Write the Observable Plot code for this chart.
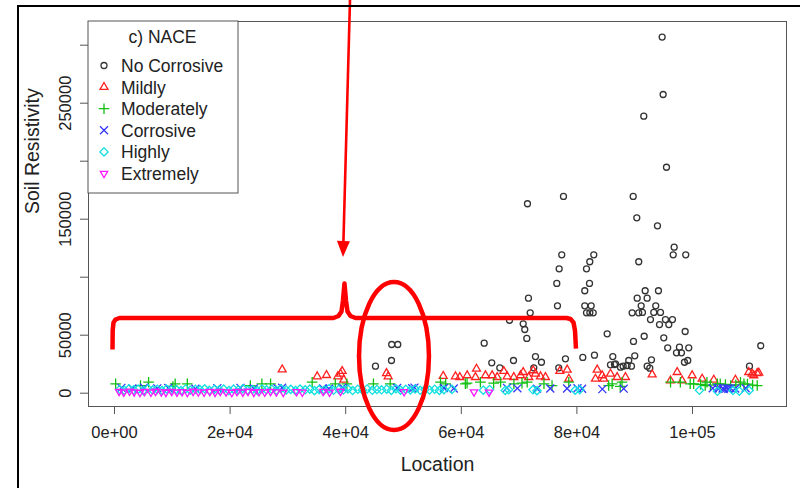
<!DOCTYPE html>
<html><head><meta charset="utf-8">
<script src="https://cdn.jsdelivr.net/npm/d3@7"></script>
<script src="https://cdn.jsdelivr.net/npm/@observablehq/plot@0.6"></script>
<style>body{margin:0;background:#fff;overflow:hidden}</style>
</head><body><div id="chart"></div>
<script>
// ---- data: [Location, Soil Resistivity] ----
const noCorrosive = [[94750,307000],[94920,257500],[91570,238800],[95500,194800],[77680,169600],[71450,163300],[89740,169600],[90360,151200],[93940,144300],[96830,125900],[77380,119300],[76930,107200],[76520,94600],[76640,75300],[82920,119300],[82230,113300],[81660,107200],[82180,94600],[81360,88300],[81360,75300],[82470,75300],[81660,69300],[82240,69300],[82820,69300],[90700,113300],[90430,81900],[89560,69300],[90700,69300],[71620,81900],[71920,69300],[70710,59800],[70980,54900],[71330,47200],[68340,62900],[63960,43100],[85240,51200],[89790,44600],[90010,32200],[65270,26200],[69030,28200],[72830,31600],[73870,26700],[78020,29600],[81020,30800],[83040,32800],[86210,31600],[85810,24500],[86680,25300],[87540,22400],[88970,28200],[88700,23900],[72540,21900],[76860,21900],[66660,21900],[96660,119300],[98830,119300],[91810,88300],[94110,88300],[92150,81900],[91120,75300],[93640,75300],[91340,69600],[93300,69600],[94460,69600],[92730,63500],[95320,63500],[96530,63500],[94290,59200],[95900,59200],[91640,49100],[95030,47700],[98730,53200],[95710,39100],[97740,39700],[99350,39100],[97230,34800],[98090,34800],[92900,28800],[98610,26700],[99180,28200],[86500,24700],[88000,23300],[89440,23300],[92160,23300],[92610,21600],[111810,40900],[109860,23300],[47960,42000],[49010,42000],[47920,28200],[45150,23300]];
const mildly = [[29010,20400],[35070,14400],[36680,15500],[38630,14400],[39390,19000],[39670,11500],[39100,16700],[47060,17200],[47350,14400],[56870,14800],[58990,14400],[59740,13800],[61020,15300],[62630,21000],[62450,13800],[64180,15300],[65340,15300],[66210,13800],[67350,19000],[67940,14400],[69080,13800],[70240,15300],[70710,18100],[71670,13800],[72430,19600],[72830,16700],[73700,14400],[74560,13800],[77040,19000],[78320,20200],[78600,12400],[83510,20200],[83210,12400],[84370,15300],[84650,12400],[85810,16700],[86960,13800],[88400,13800],[93020,16100],[96190,10900],[97350,18100],[98210,10900],[99940,15300],[101670,12400],[103680,11500],[107430,11500],[109730,18100],[110310,16700],[111190,17200],[110600,15300],[111460,17600]];
const moderately = [[200,8100],[4500,6600],[5900,9500],[10100,5800],[10500,8100],[12600,8100],[23500,6600],[25500,8100],[27000,8100],[34200,9500],[38200,8100],[40200,8100],[44800,8100],[47700,8100],[56400,9500],[57300,8100],[60700,8100],[61000,8600],[63300,9500],[65600,8600],[66800,9500],[69100,8100],[70500,8600],[71400,9500],[74300,8100],[75700,6600],[78600,9500],[85500,6600],[86100,8100],[87500,5800],[87800,9500],[96200,9500],[97900,9500],[99600,8100],[100200,8100],[101400,7500],[102200,6600],[102500,9500],[103100,7000],[104300,8100],[104800,8100],[105700,7500],[106600,6600],[107500,7200],[108300,9500],[108900,8100],[109500,7800],[110400,7000],[111200,6600]];
const corrosive = [[1200,4600],[3100,4000],[5100,4800],[7400,4200],[9300,4500],[14000,3900],[17800,4400],[21800,4600],[24100,4000],[28200,4300],[29000,4700],[36100,4100],[37100,3800],[39400,4600],[39700,3900],[48900,4500],[51500,4300],[51900,4800],[57000,4500],[58700,4000],[67900,4600],[69700,4200],[73100,3900],[75400,4100],[78300,4000],[80100,4300],[80900,3800],[84400,3500],[88100,3900],[103500,4300],[104300,4600],[104500,3700],[105200,4100],[105400,3500],[105900,4400],[106200,3800],[106600,4200],[107400,4000],[109200,4300]];
const highly = [[900,3200],[1700,2500],[2500,3800],[3300,2900],[4100,3500],[5000,2200],[5800,3900],[6600,2700],[7400,3300],[8200,2400],[9000,3600],[9800,2800],[10700,3100],[11500,2300],[12300,3700],[13100,2600],[14000,3400],[14800,2900],[15600,3800],[16400,2500],[17300,3300],[18100,2700],[18900,3600],[19800,2400],[20600,3500],[21400,2800],[22200,3900],[23000,2600],[23900,3200],[24700,2300],[25500,3700],[26300,2900],[27200,3400],[28000,2500],[28800,3800],[29700,2700],[30500,3300],[31300,2400],[32100,3600],[33000,2900],[33800,3500],[34600,2200],[35400,3100],[36300,2800],[37100,3900],[37900,2500],[38800,3300],[39600,2700],[40400,3600],[41200,2300],[42100,3400],[42900,2800],[43700,3700],[44600,2500],[45400,3200],[46200,2900],[47100,3500],[47900,2400],[48700,3800],[49500,2600],[50400,3300],[51200,2800],[52000,3600],[52900,2500],[53700,3100],[54500,2700],[55400,3400],[56200,2400],[57000,3000],[58400,3300],[63800,2600],[64900,3200],[67600,2400],[68200,3000],[72400,2900],[73100,2200],[79700,2600],[80500,3100],[101200,2500],[104300,1600],[107000,2300],[108100,1800],[109800,2400]];
const extremely = [[800,1500],[1600,900],[2600,1700],[3400,1100],[4400,600],[5200,1400],[6300,800],[7100,1600],[8100,1000],[8900,700],[9900,1500],[10800,900],[11700,1300],[12600,600],[13600,1600],[14500,1000],[15500,800],[16500,1400],[17400,700],[18300,1500],[19300,1100],[20300,600],[21200,1400],[22200,900],[23100,1600],[24100,700],[25000,1200],[26000,800],[27000,1500],[28000,1000],[29200,700],[31500,1300],[32500,800],[36100,1500],[37200,900],[39100,1600],[50100,1200],[62200,1100],[64800,900]];

const xTicks = [0, 20000, 40000, 60000, 80000, 100000];
const xTickLabels = ["0e+00", "2e+04", "4e+04", "6e+04", "8e+04", "1e+05"];
const yTicks = [0, 50000, 100000, 150000, 200000, 250000, 300000];
const yTickLabelled = [0, 50000, 150000, 250000];
const legendTitle = "c) NACE";
const legendLabels = ["No Corrosive", "Mildly", "Moderately", "Corrosive", "Highly", "Extremely"];

// ---- annotations (data units) ----
const bracePoints = [[-346,37670],[-311,54050],[-173,60950],[173,63530],[865,64820],[37890,64820],[38750,66550],[39270,70430],[39530,79910],[39790,94570],[40050,79910],[40310,70430],[40830,66550],[41690,64820],[78200,64820],[78890,63960],[79410,60950],[79670,54050],[79840,38530]];
const ellipseCenter = [48440, 31590];
const ellipseRadii = [6050, 63800];
const arrowFrom = [40830, 338500];
const arrowTo = [39620, 116970];

// ---- styles ----
const series = [
  {data: noCorrosive, symbol: "circle",    r: 3.0, color: "#333333", rotate: 0},
  {data: mildly,      symbol: "triangle2", r: 3.8, color: "#ff2020", rotate: 0},
  {data: moderately,  symbol: "plus",      r: 3.5, color: "#12c012", rotate: 0},
  {data: corrosive,   symbol: "times",     r: 3.7, color: "#3535ff", rotate: 0},
  {data: highly,      symbol: "diamond2",  r: 3.7, color: "#12e0e0", rotate: 0},
  {data: extremely,   symbol: "triangle2", r: 3.5, color: "#ff18ff", rotate: 180}
];
const FONT = '"Liberation Sans", Arial, Helvetica, sans-serif';
const SW = 1.3;

const plot = Plot.plot({
  width: 800, height: 488,
  marginLeft: 88, marginRight: 14, marginTop: 21, marginBottom: 82,
  x: {domain: [-4498, 116263]},
  y: {domain: [-11466, 320431]},
  style: {fontFamily: FONT, background: "#fff", color: "#222", overflow: "visible"},
  marks: [
    Plot.frame({stroke: "#555"}),
    Plot.axisX({ticks: xTicks, tickFormat: d => xTickLabels[xTicks.indexOf(d)], tickSize: 8, tickPadding: 12, fontSize: 16.5, stroke: "#555", label: null}),
    Plot.axisY({ticks: yTicks, tickFormat: d => yTickLabelled.includes(d) ? String(d) : "", tickSize: 8, tickPadding: 10, tickRotate: -90, fontSize: 16.5, stroke: "#555", label: null}),
    Plot.text(["Location"], {frameAnchor: "bottom", dy: 64, lineAnchor: "bottom", fontSize: 19.5, text: d => d, fill: "#222"}),
    Plot.text(["Soil Resistivity"], {frameAnchor: "left", dx: -50, rotate: -90, lineAnchor: "bottom", fontSize: 19.5, text: d => d, fill: "#222"}),
    ...series.map(s => Plot.dot(s.data, {x: d => d[0], y: d => d[1], symbol: s.symbol, r: s.r, stroke: s.color, fill: "none", strokeWidth: SW, rotate: s.rotate})),
    Plot.line(bracePoints, {x: d => d[0], y: d => d[1], stroke: "#f00", strokeWidth: 4.5, strokeLinejoin: "round", strokeLinecap: "butt"})
  ]
});
document.getElementById("chart").appendChild(plot);

const svg = d3.select(plot);
const sx = plot.scale("x"), sy = plot.scale("y");

// ellipse annotation
svg.append("ellipse")
  .attr("cx", sx.apply(ellipseCenter[0])).attr("cy", sy.apply(ellipseCenter[1]))
  .attr("rx", sx.apply(ellipseCenter[0] + ellipseRadii[0]) - sx.apply(ellipseCenter[0]))
  .attr("ry", sy.apply(ellipseCenter[1]) - sy.apply(ellipseCenter[1] + ellipseRadii[1]))
  .attr("fill", "none").attr("stroke", "#f00").attr("stroke-width", 4.5);

// arrow annotation
{
  const x1 = sx.apply(arrowFrom[0]), y1 = sy.apply(arrowFrom[1]);
  const x2 = sx.apply(arrowTo[0]), y2 = sy.apply(arrowTo[1]);
  const len = Math.hypot(x2 - x1, y2 - y1), ux = (x2 - x1) / len, uy = (y2 - y1) / len;
  const hl = 16, hw = 6.5;
  const bx = x2 - ux * hl, by = y2 - uy * hl;
  svg.append("line").attr("x1", x1).attr("y1", y1).attr("x2", bx).attr("y2", by)
    .attr("stroke", "#f00").attr("stroke-width", 2.6);
  svg.append("path")
    .attr("d", `M${x2},${y2}L${bx - uy * hw},${by + ux * hw}L${bx + uy * hw},${by - ux * hw}Z`)
    .attr("fill", "#f00");
}

// legend
{
  const g = svg.append("g").attr("font-family", FONT).attr("text-anchor", "start");
  g.append("rect").attr("x", 88).attr("y", 21).attr("width", 150).attr("height", 172)
    .attr("fill", "#fff").attr("stroke", "#555").attr("stroke-width", 1);
  g.append("text").attr("x", 162.5).attr("y", 43).attr("text-anchor", "middle")
    .attr("font-size", 17.5).attr("fill", "#222").text(legendTitle);
  const symMap = {circle: d3.symbolCircle, triangle2: d3.symbolTriangle2, plus: d3.symbolPlus, times: d3.symbolTimes, diamond2: d3.symbolDiamond2};
  legendLabels.forEach((lab, i) => {
    const s = series[i];
    const yb = 72 + i * 21.6;
    g.append("path")
      .attr("d", d3.symbol(symMap[s.symbol], Math.PI * s.r * s.r)())
      .attr("transform", `translate(104,${yb - 6.5}) rotate(${s.rotate})`)
      .attr("fill", "none").attr("stroke", s.color).attr("stroke-width", SW);
    g.append("text").attr("x", 121).attr("y", yb).attr("text-anchor", "start")
      .attr("font-size", 17.5).attr("fill", "#222").text(lab);
  });
}

// outer page frame
svg.append("line").attr("x1", 17).attr("y1", 6).attr("x2", 800).attr("y2", 6).attr("stroke", "#000").attr("stroke-width", 2);
svg.append("line").attr("x1", 18).attr("y1", 5).attr("x2", 18).attr("y2", 488).attr("stroke", "#000").attr("stroke-width", 2);
</script>
</body></html>
